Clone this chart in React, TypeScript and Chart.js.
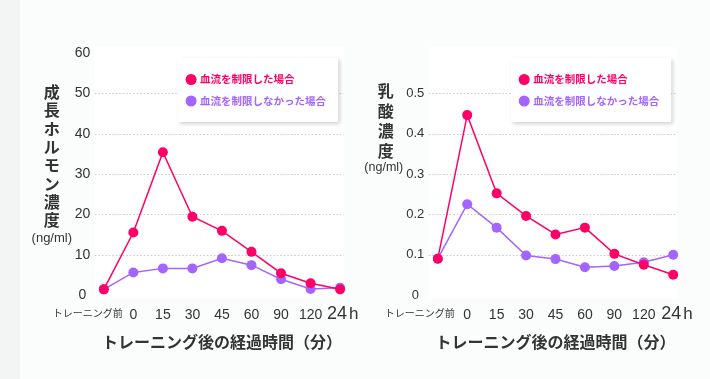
import React, { useEffect, useRef } from 'react';
import { Chart, registerables } from 'chart.js';
Chart.register(...registerables);

// ---- data ----
const categories = ['トレーニング前', '0', '15', '30', '45', '60', '90', '120', '24h'];
const ghRestricted = [1.4, 15.5, 35.4, 19.4, 15.9, 10.7, 5.4, 2.9, 1.4];
const ghUnrestricted = [1.4, 5.6, 6.6, 6.6, 9.1, 7.4, 3.9, 1.5, 1.8];
const laRestricted = [0.09, 0.446, 0.252, 0.196, 0.15, 0.167, 0.102, 0.075, 0.05];
const laUnrestricted = [0.09, 0.225, 0.167, 0.098, 0.089, 0.069, 0.072, 0.081, 0.1];
const ghAxis = { min: 0, max: 60, step: 10 };
const laAxis = { min: 0, max: 0.6, step: 0.1 };
const legendLabels = ['血流を制限した場合', '血流を制限しなかった場合'];
const xTitle = 'トレーニング後の経過時間（分）';
const ghYTitle = '成長ホルモン濃度';
const laYTitle = '乳酸濃度';
const unitLabel = '(ng/ml)';

const RED = '#ff0066';
const PURPLE = '#a364ff';
const TEXT = '#333333';
const JP = "'Noto Sans CJK JP', 'Noto Sans', sans-serif";
const LAT = "'Liberation Sans', Arial, sans-serif";

type Cfg = {
  restricted: number[];
  unrestricted: number[];
  axis: { min: number; max: number; step: number };
  hideTop: boolean;
  yTitle: string;
  titleStep: number;
  titleTop: number;
  unitY: number;
  unitDx: number;
  unitSize: number;
  tickSize: number;
  padLeft: number;
  padRight: number;
  tickPad: number;
  preDx: number;
  lastDx: number;
};

function decorPlugin(cfg: Cfg) {
  return {
    id: 'decor',
    beforeDraw(chart: any) {
      const { ctx, chartArea: ca } = chart;
      ctx.save();
      ctx.fillStyle = '#ffffff';
      ctx.fillRect(ca.left - 9, ca.top - 6, ca.right - ca.left + 12.5, ca.bottom - ca.top + 9);
      ctx.restore();
    },
    beforeDatasetsDraw(chart: any) {
      const { ctx, chartArea: ca, scales } = chart;
      const y = scales.y;
      ctx.save();
      ctx.strokeStyle = '#c9c9c9';
      ctx.lineWidth = 1;
      ctx.setLineDash([1.5, 2]);
      y.ticks.forEach((t: any) => {
        if (t.value <= cfg.axis.min + 1e-9 || t.value >= cfg.axis.max - 1e-9) return;
        const py = Math.round(y.getPixelForValue(t.value)) + 0.5;
        ctx.beginPath();
        ctx.moveTo(ca.left - 9, py);
        ctx.lineTo(ca.right + 3.5, py);
        ctx.stroke();
      });
      ctx.restore();
    },
    afterDraw(chart: any) {
      const { ctx, chartArea: ca, scales } = chart;
      const x = scales.x;
      ctx.save();
      // x tick labels
      ctx.fillStyle = TEXT;
      categories.forEach((c, i) => {
        const px = x.getPixelForValue(i);
        if (i === 0) {
          ctx.font = `10px ${JP}`;
          ctx.textAlign = 'right';
          ctx.textBaseline = 'middle';
          ctx.fillText(c, px + cfg.preDx, 313);
        } else if (i === categories.length - 1) {
          ctx.textBaseline = 'alphabetic';
          ctx.textAlign = 'left';
          ctx.font = `18px ${LAT}`;
          const num = c.replace('h', '');
          ctx.fillText(num, px + cfg.lastDx, 318.5);
          const w = ctx.measureText(num).width;
          ctx.font = `17px ${LAT}`;
          ctx.fillText('h', px + cfg.lastDx + w + 2, 318.5);
        } else {
          ctx.font = `14px ${LAT}`;
          ctx.textAlign = 'center';
          ctx.textBaseline = 'alphabetic';
          ctx.fillText(c, px, 318.5);
        }
      });
      // x title
      ctx.font = `bold 16px ${JP}`;
      ctx.textAlign = 'center';
      ctx.textBaseline = 'middle';
      ctx.fillText(xTitle, (ca.left + ca.right) / 2, 342);
      // y title (vertical)
      const tx = ca.left - 52;
      ctx.font = `bold 16px ${JP}`;
      Array.from(cfg.yTitle).forEach((ch, i) => {
        ctx.fillText(ch, tx, cfg.titleTop + i * cfg.titleStep);
      });
      ctx.font = `${cfg.unitSize}px ${LAT}`;
      ctx.fillText(unitLabel, tx + cfg.unitDx, cfg.unitY);
      // legend box
      const bx = ca.right - 162;
      const by = ca.top + 5;
      const bw = 160;
      const bh = 64;
      ctx.save();
      ctx.shadowColor = 'rgba(0,0,0,0.18)';
      ctx.shadowBlur = 4;
      ctx.shadowOffsetX = 2;
      ctx.shadowOffsetY = 2;
      ctx.fillStyle = '#ffffff';
      ctx.fillRect(bx, by, bw, bh);
      ctx.restore();
      const colors = [RED, PURPLE];
      legendLabels.forEach((lab, i) => {
        const cy = by + 21.5 + i * 21.5;
        ctx.fillStyle = colors[i];
        ctx.beginPath();
        ctx.arc(bx + 13, cy, 5.5, 0, Math.PI * 2);
        ctx.fill();
        ctx.font = `bold 10.5px ${JP}`;
        ctx.textAlign = 'left';
        ctx.textBaseline = 'middle';
        ctx.fillText(lab, bx + 22, cy);
      });
      ctx.restore();
    },
  };
}

function LineChart({ cfg, left, width }: { cfg: Cfg; left: number; width: number }) {
  const ref = useRef<HTMLCanvasElement>(null);
  useEffect(() => {
    const chart = new Chart(ref.current!, {
      type: 'line',
      data: {
        labels: categories,
        datasets: [
          {
            label: legendLabels[0],
            data: cfg.restricted,
            borderColor: RED,
            backgroundColor: RED,
            pointBackgroundColor: RED,
            pointBorderColor: RED,
            borderWidth: 1.5,
            pointRadius: 5,
            pointBorderWidth: 0,
            tension: 0,
          },
          {
            label: legendLabels[1],
            data: cfg.unrestricted,
            borderColor: PURPLE,
            backgroundColor: PURPLE,
            pointBackgroundColor: PURPLE,
            pointBorderColor: PURPLE,
            borderWidth: 1.5,
            pointRadius: 5,
            pointBorderWidth: 0,
            tension: 0,
          },
        ],
      },
      options: {
        animation: false,
        responsive: false,
        devicePixelRatio: 1,
        layout: { padding: { left: cfg.padLeft, right: cfg.padRight, top: 53, bottom: 84 } },
        plugins: { legend: { display: false }, tooltip: { enabled: false } },
        scales: {
          x: { type: 'category', display: false, offset: false },
          y: {
            min: cfg.axis.min,
            max: cfg.axis.max,
            border: { display: false },
            grid: { display: false, drawTicks: false },
            afterFit: (s: any) => {
              s.width = 40;
            },
            ticks: {
              stepSize: cfg.axis.step,
              padding: cfg.tickPad,
              crossAlign: 'center',
              color: TEXT,
              font: { family: LAT, size: cfg.tickSize },
              callback: (v: any) => {
                const n = Number(v);
                if (cfg.hideTop && n >= cfg.axis.max - 1e-9) return '';
                return String(Math.round(n * 100) / 100);
              },
            },
          },
        },
      },
      plugins: [decorPlugin(cfg)],
    } as any);
    return () => chart.destroy();
  }, []);
  return (
    <canvas
      ref={ref}
      width={width}
      height={379}
      style={{ position: 'absolute', left, top: 0, width, height: 379 }}
    />
  );
}

const ghCfg: Cfg = {
  restricted: ghRestricted,
  unrestricted: ghUnrestricted,
  axis: ghAxis,
  hideTop: false,
  yTitle: ghYTitle,
  titleStep: 18.3,
  titleTop: 92,
  unitY: 238,
  unitDx: 0,
  unitSize: 13,
  tickSize: 14,
  padLeft: 63.8,
  padRight: 39.9,
  tickPad: 13.5,
  preDx: 19,
  lastDx: -13,
};

const laCfg: Cfg = {
  restricted: laRestricted,
  unrestricted: laUnrestricted,
  axis: laAxis,
  hideTop: true,
  yTitle: laYTitle,
  titleStep: 20,
  titleTop: 91,
  unitY: 168,
  unitDx: -2,
  unitSize: 12.5,
  tickSize: 13,
  padLeft: 42.8,
  padRight: 36.8,
  tickPad: 13.5,
  preDx: 17,
  lastDx: -12,
};

export default function App() {
  return (
    <div
      style={{
        position: 'fixed',
        left: 0,
        top: 0,
        width: 710,
        height: 379,
        background: '#fbfcfc',
        overflow: 'hidden',
      }}
    >
      <div style={{ position: 'absolute', left: 0, top: 0, width: 20, height: 379, background: '#f3f5f5' }} />
      <LineChart cfg={ghCfg} left={0} width={380} />
      <LineChart cfg={laCfg} left={355} width={355} />
    </div>
  );
}
